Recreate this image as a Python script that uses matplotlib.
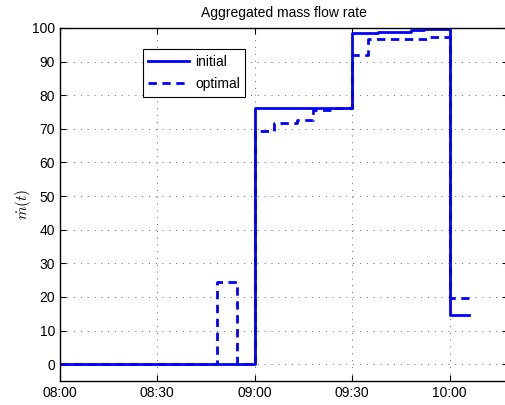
import matplotlib
matplotlib.use("Agg")
import matplotlib.pyplot as plt

plt.rcParams["font.family"] = ["Liberation Sans", "DejaVu Sans"]
plt.rcParams["mathtext.fontset"] = "cm"

# minutes after 08:00, step values (held until next time)
init_t = [0, 60, 90, 98, 108, 112, 120, 126]
init_v = [0, 76.1, 98.6, 98.9, 99.3, 99.6, 14.6, 14.6]

opt_t = [0, 48.5, 54.5, 60, 66, 73, 78, 85, 90, 95, 113, 120, 126]
opt_v = [0, 24.5, 0, 69.4, 71.6, 72.6, 75.6, 76.1, 92.0, 96.8, 97.4, 19.6, 19.6]

x_ticks = [0, 30, 60, 90, 120]
x_labels = ["08:00", "08:30", "09:00", "09:30", "10:00"]
y_ticks = list(range(0, 101, 10))

fig = plt.figure(figsize=(5.05, 4.05), dpi=100)
ax = fig.add_axes([0.1188, 0.0593, 0.887, 0.8716])

ax.step(init_t, init_v, where="post", color="blue", lw=2, label="initial")
ax.step(opt_t, opt_v, where="post", color="blue", lw=2, ls="--",
        dashes=(3, 2), label="optimal")

ax.set_xlim(0, 138)
ax.set_ylim(-5, 100)
ax.set_xticks(x_ticks)
ax.set_xticklabels(x_labels)
ax.set_yticks(y_ticks)
ax.tick_params(direction="in", top=True, right=True, length=4, labelsize=10)
ax.grid(True, color="0.4", linestyle=(0, (1, 6)), linewidth=0.7)
for s in ax.spines.values():
    s.set_linewidth(1.0)

ax.set_title("Aggregated mass flow rate", fontsize=10, pad=8)
ax.set_ylabel(r"$\dot{m}(t)$", fontsize=11, labelpad=-1)

leg = ax.legend(loc="upper left", bbox_to_anchor=(0.185, 0.94), fontsize=10,
                frameon=True, fancybox=False, framealpha=1, edgecolor="black",
                handlelength=2.9, handletextpad=0.45, borderpad=0.4,
                labelspacing=0.6, borderaxespad=0)
leg.get_frame().set_linewidth(0.8)

fig.savefig("out.png", dpi=100)
